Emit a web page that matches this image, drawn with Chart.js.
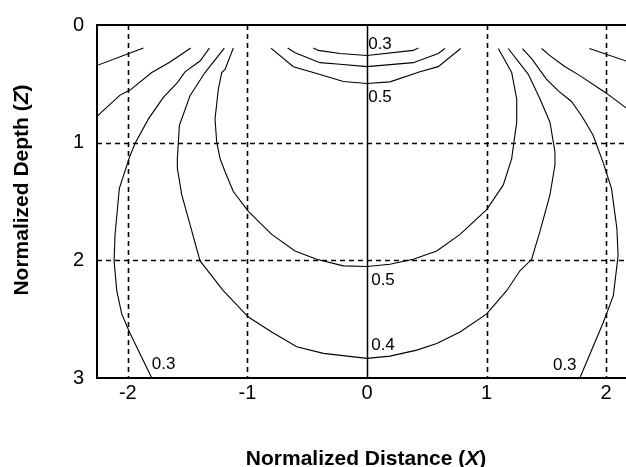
<!DOCTYPE html>
<html>
<head>
<meta charset="utf-8">
<script src="https://cdn.jsdelivr.net/npm/chart.js@4"></script>
<style>
  body { margin: 0; background: #fff; }
  canvas { display: block; }
</style>
</head>
<body>
<canvas id="myChart" width="626" height="467"></canvas>
<script>
// tick labels
const xTicks = [-2, -1, 0, 1, 2];
const zTicks = [0, 1, 2, 3];

// contour lines, [X, Z] pairs
const c02Left = [[-2.26, 0.345], [-1.87, 0.196]];
const c02Right = [[1.86, 0.2], [2.2, 0.318]];

const c025Left = [[-2.26, 0.78], [-2.22, 0.741], [-2.065, 0.596], [-1.982, 0.553], [-1.80, 0.404], [-1.647, 0.314], [-1.474, 0.196]];
const c025Right = [[1.46, 0.2], [1.53, 0.26], [1.65, 0.35], [1.78, 0.43], [1.98, 0.565], [2.03, 0.6], [2.2, 0.73]];

const c03Left = [[-1.318, 0.196], [-1.396, 0.306], [-1.522, 0.398], [-1.586, 0.489], [-1.703, 0.615], [-1.828, 0.798], [-1.94, 1.008], [-1.985, 1.12],
  [-2.071, 1.388], [-2.107, 1.78], [-2.115, 2.005], [-2.093, 2.258], [-2.051, 2.455], [-1.987, 2.609], [-1.80, 3.0]];
const c03Right = [[1.30, 0.2], [1.38, 0.29], [1.50, 0.46], [1.60, 0.56], [1.71, 0.65], [1.80, 0.78], [1.89, 0.935], [1.975, 1.17],
  [2.045, 1.39], [2.09, 1.73], [2.10, 1.96], [2.06, 2.30], [1.975, 2.53], [1.78, 3.0]];

const c04 = [[-1.193, 0.196], [-1.355, 0.404], [-1.48, 0.601], [-1.569, 0.853], [-1.586, 1.134], [-1.586, 1.219], [-1.549, 1.444],
  [-1.48, 1.697], [-1.396, 2.005], [-1.202, 2.258], [-0.992, 2.482], [-0.797, 2.609], [-0.588, 2.735], [-0.365, 2.791], [0, 2.833],
  [0.192, 2.814], [0.416, 2.763], [0.583, 2.707], [0.778, 2.609], [1.001, 2.455], [1.168, 2.258], [1.279, 2.089], [1.377, 1.991],
  [1.447, 1.752], [1.53, 1.443], [1.572, 1.19], [1.572, 1.078], [1.53, 0.826], [1.447, 0.629], [1.349, 0.419], [1.181, 0.2]];

const c05 = [[-1.118, 0.196], [-1.187, 0.377], [-1.215, 0.404], [-1.243, 0.545], [-1.271, 0.798], [-1.257, 0.994], [-1.229, 1.135],
  [-1.187, 1.247], [-1.118, 1.415], [-0.992, 1.584], [-0.797, 1.78], [-0.602, 1.921], [-0.421, 1.991], [-0.198, 2.047], [0, 2.053],
  [0.192, 2.033], [0.387, 1.991], [0.583, 1.921], [0.778, 1.78], [1.001, 1.569], [1.14, 1.359], [1.21, 1.135], [1.252, 0.826],
  [1.252, 0.629], [1.21, 0.404], [1.098, 0.2]];

// small arcs near the surface
const arc03 = [[-0.449, 0.196], [-0.407, 0.216], [-0.226, 0.242], [0, 0.259], [0.387, 0.216], [0.429, 0.196]];
const arc04 = [[-0.663, 0.196], [-0.602, 0.236], [-0.393, 0.32], [-0.226, 0.334], [0, 0.354], [0.387, 0.32], [0.596, 0.242], [0.652, 0.2]];
const arc05 = [[-0.803, 0.196], [-0.616, 0.354], [-0.449, 0.404], [-0.198, 0.48], [0, 0.497], [0.192, 0.483], [0.443, 0.398], [0.596, 0.354], [0.783, 0.2]];

// contour label texts and where they sit
const labelTexts = ['0.3', '0.5', '0.5', '0.4', '0.3', '0.3'];
const labelX = [0.01, 0.01, 0.035, 0.035, -1.80, 1.555];
const labelZ = [0.16, 0.615, 2.174, 2.72, 2.885, 2.89];

const allLines = [c02Left, c02Right, c025Left, c025Right, c03Left, c03Right, c04, c05, arc03, arc04, arc05];

const FONT = '"Liberation Sans", Arial, Helvetica, sans-serif';

//draws the dashed grid, the centre line and the frame
const gridPlugin = {
  id: 'gridPlugin',
  beforeDatasetsDraw(chart) {
    const ctx = chart.ctx;
    const a = chart.chartArea;
    const xs = chart.scales.x;
    const ys = chart.scales.y;
    ctx.save();
    ctx.strokeStyle = '#000';
    ctx.lineWidth = 1.6;
    ctx.setLineDash([5, 4]);
    xTicks.forEach(v => {
      if (v === 0) return;
      const px = Math.round(xs.getPixelForValue(v)) + 0.5;
      ctx.beginPath();
      ctx.moveTo(px, a.top);
      ctx.lineTo(px, a.bottom);
      ctx.stroke();
    });
    zTicks.forEach(v => {
      if (v === 0 || v === 3) return;
      const py = Math.round(ys.getPixelForValue(v)) + 0.5;
      ctx.beginPath();
      ctx.moveTo(a.left, py);
      ctx.lineTo(a.right, py);
      ctx.stroke();
    });
    ctx.setLineDash([]);
    // solid line at X = 0
    const p0 = Math.round(xs.getPixelForValue(0)) + 0.5;
    ctx.lineWidth = 1.5;
    ctx.beginPath();
    ctx.moveTo(p0, a.top);
    ctx.lineTo(p0, a.bottom);
    ctx.stroke();
    // frame: top, left, bottom
    ctx.lineWidth = 2;
    ctx.beginPath();
    ctx.moveTo(a.right, a.top);
    ctx.lineTo(a.left, a.top);
    ctx.lineTo(a.left, a.bottom);
    ctx.lineTo(a.right, a.bottom);
    ctx.stroke();
    ctx.restore();
  },
  afterDatasetsDraw(chart) {
    const ctx = chart.ctx;
    const xs = chart.scales.x;
    const ys = chart.scales.y;
    ctx.save();
    ctx.fillStyle = '#000';
    ctx.font = '17px ' + FONT;
    ctx.textAlign = 'left';
    ctx.textBaseline = 'middle';
    for (let i = 0; i < labelTexts.length; i++) {
      ctx.fillText(labelTexts[i], xs.getPixelForValue(labelX[i]), ys.getPixelForValue(labelZ[i]));
    }
    ctx.restore();
  },
  afterDraw(chart) {
    //axis titles with an italic letter
    const ctx = chart.ctx;
    ctx.save();
    ctx.fillStyle = '#000';
    ctx.textBaseline = 'alphabetic';
    drawTitle(ctx, ['Normalized Distance (', 'X', ')'], 366, 465);
    ctx.translate(28, 190);
    ctx.rotate(-Math.PI / 2);
    drawTitle(ctx, ['Normalized Depth (', 'Z', ')'], 0, 0);
    ctx.restore();
  }
};

function drawTitle(ctx, parts, cx, y) {
  const fonts = ['bold 21px ' + FONT, 'italic bold 21px ' + FONT, 'bold 21px ' + FONT];
  let total = 0;
  const widths = parts.map((p, i) => {
    ctx.font = fonts[i];
    const w = ctx.measureText(p).width;
    total += w;
    return w;
  });
  let x = cx - total / 2;
  ctx.textAlign = 'left';
  parts.forEach((p, i) => {
    ctx.font = fonts[i];
    ctx.fillText(p, x, y);
    x += widths[i];
  });
}

const data = {
  datasets: allLines.map(line => ({
    data: line.map(p => ({ x: p[0], y: p[1] })),
    showLine: true,
    borderColor: '#000',
    borderWidth: 1.1,
    pointRadius: 0,
    tension: 0,
    fill: false
  }))
};

const config = {
  type: 'scatter',
  data: data,
  options: {
    responsive: false,
    animation: false,
    devicePixelRatio: 1,
    layout: { padding: { top: 22, right: 0, left: 0, bottom: 0 } },
    plugins: {
      legend: { display: false },
      tooltip: { enabled: false }
    },
    scales: {
      x: {
        type: 'linear',
        min: -2.258,
        max: 2.166,
        afterBuildTicks: s => { s.ticks = xTicks.map(v => ({ value: v })); },
        afterFit: s => { s.height = 89; },
        grid: { display: false, drawTicks: false },
        border: { display: false },
        ticks: {
          color: '#000',
          padding: 3,
          maxRotation: 0,
          font: { family: FONT, size: 20 },
          callback: v => String(v)
        }
      },
      y: {
        type: 'linear',
        reverse: true,
        min: 0,
        max: 3,
        afterBuildTicks: s => { s.ticks = zTicks.map(v => ({ value: v })); },
        afterFit: s => { s.width = 97; },
        grid: { display: false, drawTicks: false },
        border: { display: false },
        ticks: {
          color: '#000',
          padding: 13,
          font: { family: FONT, size: 20 },
          callback: v => String(v)
        }
      }
    }
  },
  plugins: [gridPlugin]
};

const myChart = new Chart(document.getElementById('myChart'), config);
</script>
</body>
</html>
